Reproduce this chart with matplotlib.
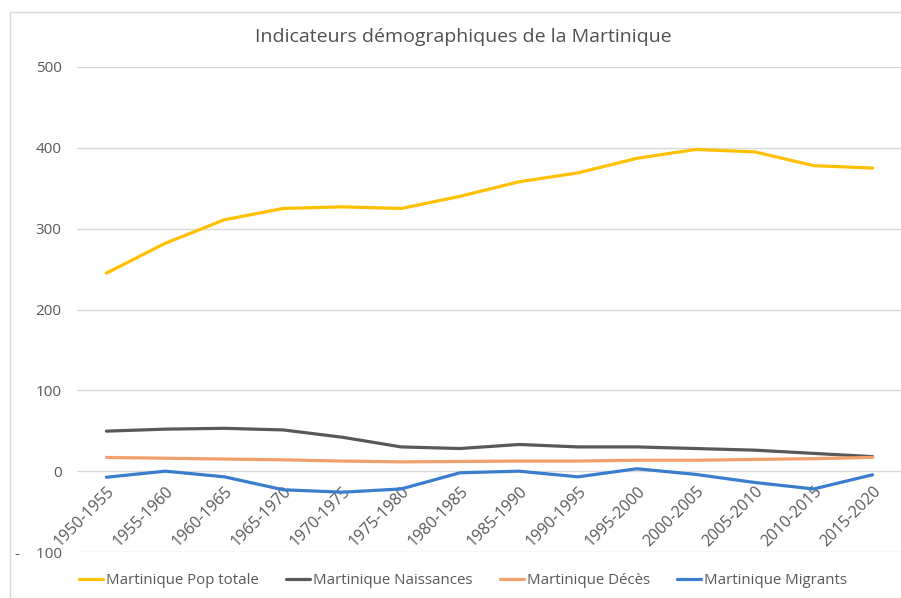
import matplotlib
matplotlib.use("Agg")
import matplotlib.pyplot as plt
from matplotlib.patches import Rectangle

categories = ["1950-1955", "1955-1960", "1960-1965", "1965-1970", "1970-1975",
              "1975-1980", "1980-1985", "1985-1990", "1990-1995", "1995-2000",
              "2000-2005", "2005-2010", "2010-2015", "2015-2020"]
pop_totale = [245, 282, 311, 325, 327, 325, 340, 358, 369, 387, 398, 395, 378, 375]
naissances = [49.5, 52, 53, 51, 42, 30, 28, 33, 30, 30, 28, 26, 22, 18]
deces = [17, 16, 15, 14, 12.5, 11.5, 12, 12.5, 12.5, 13.5, 13.5, 14.5, 15.5, 17]
migrants = [-7.5, 0, -7, -23, -26, -22, -2, 0, -7, 3, -4, -14, -22, -4.5]

yticks = [-100, 0, 100, 200, 300, 400, 500]
ytick_labels = ["-    100", "0", "100", "200", "300", "400", "500"]

series_names = ["Martinique Pop totale", "Martinique Naissances",
                "Martinique Décès", "Martinique Migrants"]
colors = ["#FFC000", "#595959", "#F4A06A", "#3A7DCE"]

plt.rcParams['font.family'] = ['Open Sans', 'DejaVu Sans']

fig = plt.figure(figsize=(9.01, 5.98), dpi=100)
W, H = 901, 598
ax = fig.add_axes([77 / W, 1 - 552 / H, (902 - 77) / W, (552 - 67) / H])
ax.spines['bottom'].set_position(('data', 0))

x = list(range(len(categories)))
for vals, name, c in zip([pop_totale, naissances, deces, migrants], series_names, colors):
    ax.plot(x, vals, color=c, lw=2.3, label=name, solid_capstyle='round', solid_joinstyle='round')

ax.set_xlim(-0.5, len(categories) - 0.5)
ax.set_ylim(-100, 500)
ax.set_yticks(yticks)
ax.set_yticklabels(ytick_labels)
ax.set_xticks(x)
ax.set_xticklabels(categories, rotation=45, ha='right', rotation_mode='anchor')
ax.tick_params(axis='both', length=0, colors='#595959')
ax.tick_params(axis='x', pad=9, labelsize=11.5)
ax.tick_params(axis='y', pad=11, labelsize=11)
ax.grid(axis='y', color='#D9D9D9', lw=1)
ax.set_axisbelow(True)
for s in ax.spines.values():
    s.set_visible(False)

fig.text(463 / W, 1 - 37 / H, "Indicateurs démographiques de la Martinique",
         ha='center', va='center', fontsize=14, color='#505050')

leg = fig.legend(loc='center', bbox_to_anchor=(463 / W, 1 - 581 / H), ncol=4,
                 frameon=False, fontsize=10.8, handlelength=1.6, handletextpad=0.2,
                 columnspacing=1.8, labelcolor='#595959')

fig.patches.append(Rectangle((10 / W, 0), 1.2, 1 - 12 / H, transform=fig.transFigure,
                             fill=False, edgecolor='#D9D9D9', lw=1))

fig.savefig("out.png", dpi=100)
